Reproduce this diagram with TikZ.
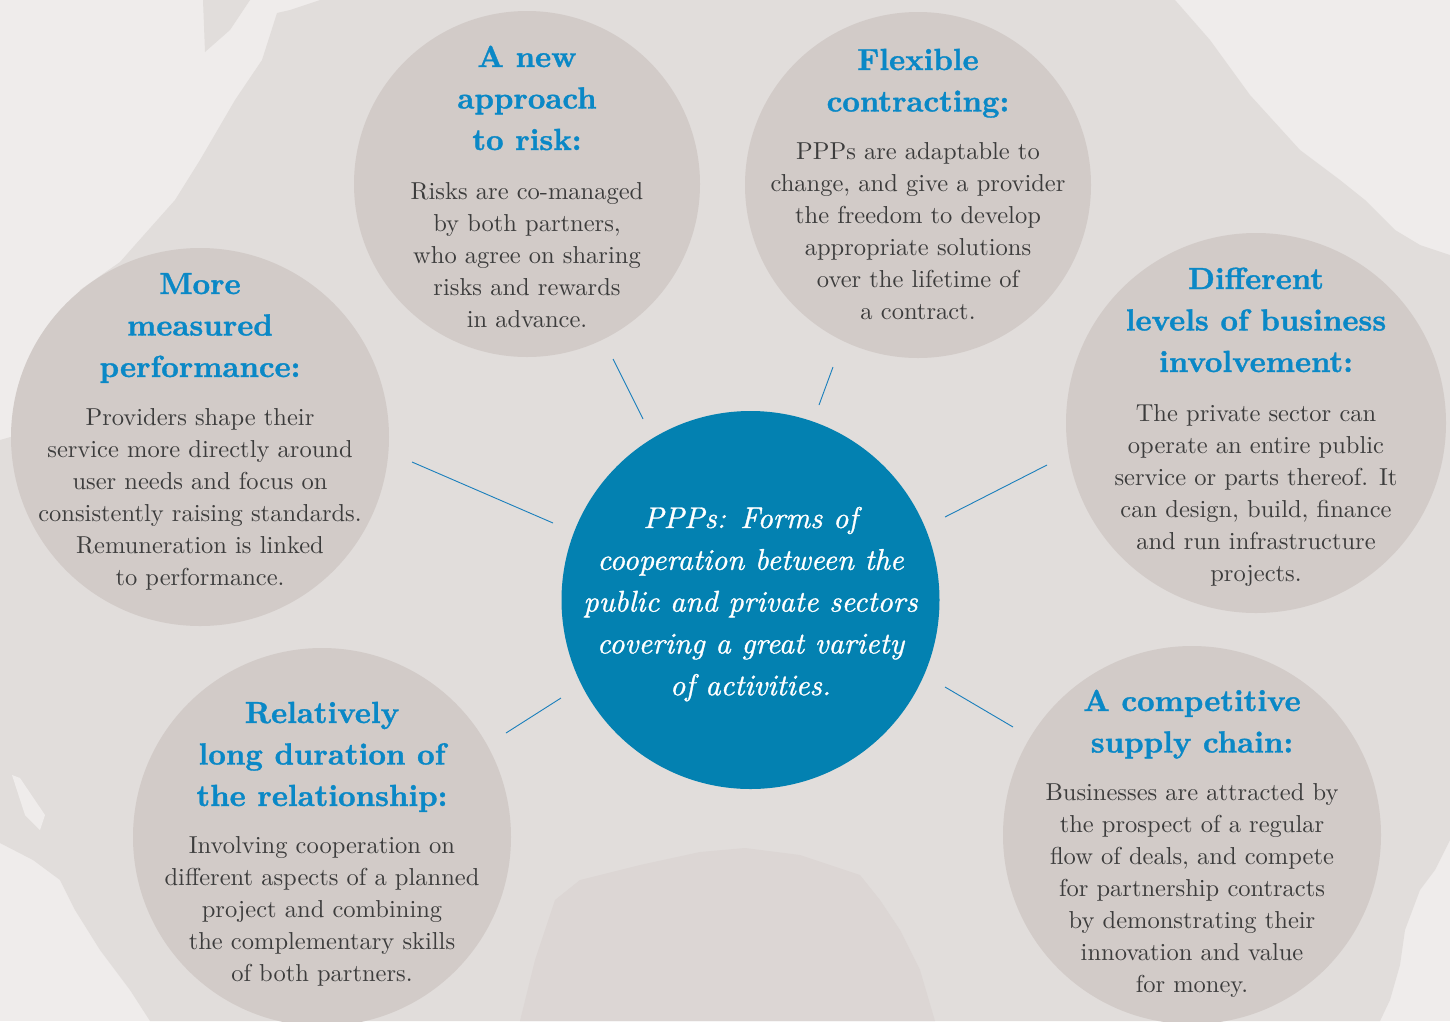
\documentclass[tikz,border=0pt]{standalone}
\usepackage{fontspec}
\setmainfont{lmroman10-regular.otf}[BoldFont=lmroman10-bold.otf,ItalicFont=lmroman10-italic.otf,BoldItalicFont=lmroman10-bolditalic.otf,BoldFeatures={FakeBold=1.2}]
\newfontfamily\hubfont{lmroman10-italic.otf}[FakeBold=1.0]
\definecolor{bglight}{HTML}{EFECEB}
\definecolor{bgdark}{HTML}{E1DDDB}
\definecolor{bgblob}{HTML}{DCD6D4}
\definecolor{circfill}{HTML}{D2CBC8}
\definecolor{centfill}{HTML}{0381B1}
\definecolor{titleblue}{HTML}{0A88C6}
\definecolor{bodygray}{HTML}{3C3C3C}
\definecolor{linkblue}{HTML}{1A7FBC}
\newcommand{\tblock}[1]{\begin{tabular}[t]{@{}c@{}}#1\end{tabular}}
\begin{document}
\begin{tikzpicture}[x=1pt,y=-1pt,
  bubble/.style={circle,fill=circfill,inner sep=0pt,minimum size=#1},
  hub/.style={circle,fill=centfill,inner sep=0pt,minimum size=#1},
  ttl/.style={anchor=base,inner sep=0pt,text=titleblue,font=\fontsize{30.5}{41.5}\selectfont\bfseries},
  bodytxt/.style={anchor=base,inner sep=0pt,text=bodygray,font=\fontsize{24.5}{32}\selectfont},
  hubtxt/.style={anchor=base,inner sep=0pt,text=white,font=\hubfont\fontsize{30}{41.8}\selectfont},
  link/.style={draw=linkblue,line width=0.9pt}]
\useasboundingbox (0,0) rectangle (1450,1021);
% background
\fill[bglight] (0,0) rectangle (1450,1021);
\fill[bgdark] (277,13) -- (290,10) -- (320,0) -- (1175,0) -- (1210,40) -- (1250,95) -- (1300,150) -- (1340,180)
  -- (1365,200) -- (1395,230) -- (1420,245) -- (1450,255) -- (1450,840) -- (1435,870) -- (1420,890)
  -- (1405,930) -- (1400,965) -- (1390,1000) -- (1380,1021) -- (150,1021) -- (130,990) -- (100,950)
  -- (75,910) -- (60,880) -- (33,860) -- (0,843) -- (0,440) -- (35,430) -- (45,365) -- (75,340)
  -- (80,290) -- (120,262) -- (135,245) -- (175,200) -- (200,160) -- (235,100) -- (262,60) -- (270,35) -- cycle;
\fill[bgdark] (203,0) -- (250,0) -- (230,30) -- (205,52) -- cycle;
\fill[bglight] (12,775) -- (20,778) -- (45,815) -- (40,830) -- (25,815) -- cycle;
\fill[bgblob] (520,1021) -- (535,960) -- (555,900) -- (580,880) -- (640,865) -- (700,852) -- (745,848)
  -- (800,855) -- (860,875) -- (880,900) -- (900,930) -- (920,970) -- (935,1021) -- cycle;
% circles
\node[bubble=346] (risk) at (527,184) {};
\node[bubble=346] (flex) at (918,185) {};
\node[bubble=378] (perf) at (200,437) {};
\node[bubble=380] (levels) at (1256,423) {};
\node[bubble=378] (dur) at (322,837) {};
\node[bubble=378] (supply) at (1192,835) {};
\node[hub=378] (hub) at (750.5,600) {};
% connectors
\coordinate (r1) at (613,359); \coordinate (r2) at (643,419);
\coordinate (f1) at (833,367); \coordinate (f2) at (819,405);
\coordinate (p1) at (412,462); \coordinate (p2) at (553,523);
\coordinate (l1) at (1047,465); \coordinate (l2) at (945,517);
\coordinate (d1) at (506,733); \coordinate (d2) at (561,698);
\coordinate (s1) at (1013,727); \coordinate (s2) at (945,687);
\draw[link] (r1) -- (r2);
\draw[link] (f1) -- (f2);
\draw[link] (p1) -- (p2);
\draw[link] (l1) -- (l2);
\draw[link] (d1) -- (d2);
\draw[link] (s1) -- (s2);
% texts
\node[ttl] (riskT) at (527,67) {\tblock{A new\\approach\\to risk:}};
\node[bodytxt] (riskB) at (527,199) {\tblock{Risks are co-managed\\by both partners,\\who agree on sharing\\risks and rewards\\in advance.}};
\node[ttl] (flexT) at (918,70) {\tblock{Flexible\\contracting:}};
\node[bodytxt] (flexB) at (918,159) {\tblock{PPPs are adaptable to\\change, and give a provider\\the freedom to develop\\appropriate solutions\\over the lifetime of\\a contract.}};
\node[ttl] (perfT) at (200,294) {\tblock{More\\measured\\performance:}};
\node[bodytxt] (perfB) at (200,425) {\tblock{Providers shape their\\service more directly around\\user needs and focus on\\consistently raising standards.\\Remuneration is linked\\to performance.}};
\node[ttl] (levelsT) at (1256,289) {\tblock{Different\\levels of business\\involvement:}};
\node[bodytxt] (levelsB) at (1256,421) {\tblock{The private sector can\\operate an entire public\\service or parts thereof. It\\can design, build, finance\\and run infrastructure\\projects.}};
\node[ttl] (durT) at (322,723) {\tblock{Relatively\\long duration of\\the relationship:}};
\node[bodytxt] (durB) at (322,853) {\tblock{Involving cooperation on\\different aspects of a planned\\project and combining\\the complementary skills\\of both partners.}};
\node[ttl] (supplyT) at (1192,711) {\tblock{A competitive\\supply chain:}};
\node[bodytxt] (supplyB) at (1192,800) {\tblock{Businesses are attracted by\\the prospect of a regular\\flow of deals, and compete\\for partnership contracts\\by demonstrating their\\innovation and value\\for money.}};
\node[hubtxt] (hubT) at (750.5,528) {\tblock{PPPs: Forms of\\cooperation between the\\public and private sectors\\covering a great variety\\of activities.}};
\end{tikzpicture}
\end{document}
